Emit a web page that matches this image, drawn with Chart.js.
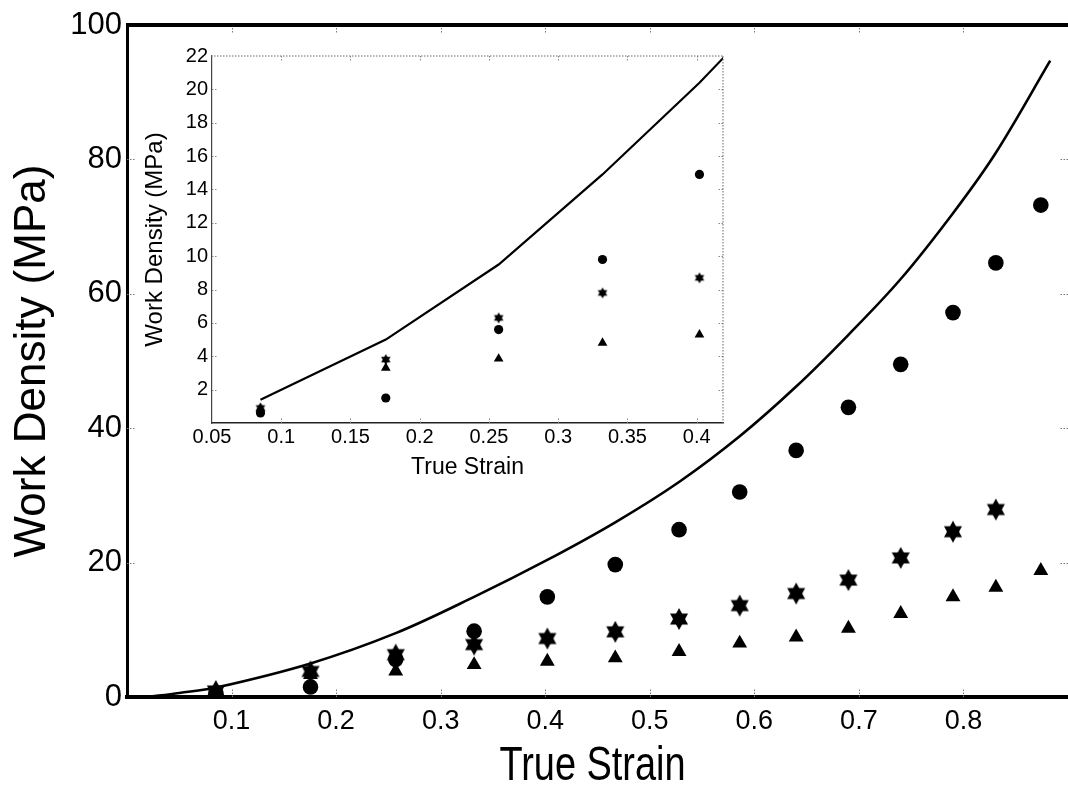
<!DOCTYPE html>
<html><head><meta charset="utf-8">
<script src="https://cdn.jsdelivr.net/npm/chart.js@4.4.1/dist/chart.umd.min.js"></script>
<style>
html,body{margin:0;padding:0;background:#fff;}
#wrap{position:relative;width:1068px;height:795px;overflow:hidden;background:#fff;}
#main{position:absolute;left:0;top:0;}
#inset{position:absolute;left:130px;top:40px;}
</style></head><body>
<div id="wrap"><canvas id="main" width="1068" height="795"></canvas><canvas id="inset" width="600" height="450"></canvas></div>
<script>
// ---- data ----
const strain       = [0.085, 0.1755, 0.257, 0.332, 0.402, 0.467, 0.528, 0.586, 0.640, 0.690, 0.740, 0.790, 0.831, 0.874];
const circleWork   = [0.6, 1.5, 5.6, 9.8, 14.9, 19.7, 24.9, 30.5, 36.7, 43.1, 49.5, 57.2, 64.6, 73.2];
const starStrain   = [0.085, 0.1755, 0.257, 0.332, 0.402, 0.467, 0.528, 0.586, 0.640, 0.690, 0.740, 0.790, 0.831];
const starWork     = [0.9, 3.8, 6.3, 7.8, 8.7, 9.7, 11.6, 13.6, 15.4, 17.4, 20.7, 24.6, 27.9];
const triangleWork = [0.85, 3.3, 3.85, 4.8, 5.3, 5.8, 6.75, 8.0, 8.9, 10.2, 12.4, 14.9, 16.3, 18.8];
const modelStrain  = [0.02, 0.05, 0.085, 0.1755, 0.257, 0.332, 0.402, 0.467, 0.528, 0.586, 0.640, 0.690, 0.740, 0.790, 0.831, 0.883];
const modelWork    = [0, 0.6, 1.4, 5.0, 9.5, 14.9, 20.4, 26.0, 32.0, 38.8, 46.2, 53.9, 62.2, 72.0, 81.0, 94.7];

const mainXTicks  = [0.1, 0.2, 0.3, 0.4, 0.5, 0.6, 0.7, 0.8];
const mainYTicks  = [0, 20, 40, 60, 80, 100];
const insetXTicks = [0.05, 0.1, 0.15, 0.2, 0.25, 0.3, 0.35, 0.4];
const insetYTicks = [2, 4, 6, 8, 10, 12, 14, 16, 18, 20, 22];
const insetCount = 5;        // data columns visible in the inset
const insetModelFrom = 2;    // inset model line starts at first data column

const xTitle = 'True Strain';
const yTitle = 'Work Density (MPa)';

// ---- helpers ----
const zip = (xs, ys) => ys.map((y, i) => ({x: xs[i], y}));
function hexagram(w, h) {
  const c = document.createElement('canvas');
  c.width = Math.ceil(w) + 2; c.height = Math.ceil(h) + 2;
  const g = c.getContext('2d');
  const cx = c.width / 2, cy = c.height / 2;
  g.fillStyle = '#000';
  g.beginPath(); g.moveTo(cx, cy - h/2); g.lineTo(cx + w/2, cy + h/4); g.lineTo(cx - w/2, cy + h/4); g.closePath(); g.fill();
  g.beginPath(); g.moveTo(cx, cy + h/2); g.lineTo(cx + w/2, cy - h/4); g.lineTo(cx - w/2, cy - h/4); g.closePath(); g.fill();
  return c;
}
const fmt = v => String(Number(v.toFixed(3)));
const SANS = "'Liberation Sans', Arial, Helvetica, sans-serif";

function frameTicks(cfg) {
  return {
    id: 'frameTicks_' + cfg.name,
    afterDatasetsDraw(chart) {
      const {ctx, chartArea: a, scales: {x, y}} = chart;
      ctx.save();
      ctx.strokeStyle = cfg.tickColor; ctx.lineWidth = 1; ctx.setLineDash([1.5, 1.5]);
      ctx.beginPath();
      cfg.xt.forEach(v => {
        const px = Math.round(x.getPixelForValue(v)) + 0.5;
        ctx.moveTo(px, a.top); ctx.lineTo(px, a.top + cfg.len);
        ctx.moveTo(px, a.bottom); ctx.lineTo(px, a.bottom - cfg.len);
      });
      cfg.yt.forEach(v => {
        const py = Math.round(y.getPixelForValue(v)) + 0.5;
        ctx.moveTo(a.left, py); ctx.lineTo(a.left + cfg.len, py);
        ctx.moveTo(a.right, py); ctx.lineTo(a.right - cfg.len, py);
      });
      ctx.stroke();
      ctx.setLineDash(cfg.frameDash);
      ctx.strokeStyle = cfg.frameColor; ctx.lineWidth = cfg.topWidth;
      ctx.beginPath(); ctx.moveTo(a.left - 1, a.top); ctx.lineTo(a.right, a.top); ctx.stroke();
      if (cfg.rightWidth) {
        ctx.lineWidth = cfg.rightWidth;
        ctx.beginPath(); ctx.moveTo(a.right, a.top); ctx.lineTo(a.right, a.bottom); ctx.stroke();
      }
      ctx.restore();
    }
  };
}

// condensed x-axis title of the main chart (the reference uses a narrow face)
const narrowXTitle = {
  id: 'narrowXTitle',
  afterDraw(chart) {
    const {ctx, chartArea: a} = chart;
    ctx.save();
    ctx.font = '48px ' + SANS;
    ctx.fillStyle = '#000';
    ctx.textAlign = 'center';
    ctx.textBaseline = 'alphabetic';
    ctx.translate((a.left + a.right) / 2 - 5, a.bottom + 83);
    ctx.scale(0.79, 1);
    ctx.fillText(xTitle, 0, 0);
    ctx.restore();
  }
};

// ---- main chart ----
new Chart(document.getElementById('main'), {
  type: 'scatter',
  data: { datasets: [
    { label: 'model', data: zip(modelStrain, modelWork), showLine: true, borderColor: '#000', borderWidth: 2.6,
      pointRadius: 0, tension: 0.35, fill: false },
    { label: 'circle', data: zip(strain, circleWork), pointStyle: 'circle', pointRadius: 7.8,
      backgroundColor: '#000', borderColor: '#000', borderWidth: 0 },
    { label: 'star', data: zip(starStrain, starWork), pointStyle: hexagram(18, 22), pointRadius: 10,
      backgroundColor: '#000', borderColor: '#000' },
    { label: 'triangle', data: zip(strain, triangleWork), pointStyle: 'triangle', pointRadius: 8.6,
      backgroundColor: '#000', borderColor: '#000', borderWidth: 0 }
  ]},
  options: {
    responsive: false, animation: false, devicePixelRatio: 1,
    layout: { autoPadding: false, padding: { top: 25, right: 0, left: 0, bottom: 0 } },
    plugins: { legend: { display: false }, tooltip: { enabled: false } },
    scales: {
      x: { type: 'linear', min: 0, max: 0.9, position: 'bottom',
        afterFit: s => { s.height = 98; s.paddingLeft = 0; s.paddingRight = 0; },
        afterBuildTicks: s => { s.ticks = mainXTicks.map(v => ({value: v})); },
        ticks: { color: '#000', font: { family: SANS, size: 27 }, padding: 8, maxRotation: 0, callback: v => fmt(v) },
        grid: { display: true, drawOnChartArea: false, drawTicks: false },
        border: { display: true, color: '#000', width: 4 },
        title: { display: false, text: xTitle }
      },
      y: { type: 'linear', min: 0, max: 100, position: 'left',
        afterFit: s => { s.width = 127; },
        afterBuildTicks: s => { s.ticks = mainYTicks.map(v => ({value: v})); },
        ticks: { color: '#000', font: { family: SANS, size: 31 }, padding: 5, callback: v => fmt(v) },
        grid: { display: true, drawOnChartArea: false, drawTicks: false },
        border: { display: true, color: '#000', width: 3 },
        title: { display: true, text: yTitle, color: '#000', font: { family: SANS, size: 44 }, padding: { top: 6, bottom: 0 } }
      }
    }
  },
  plugins: [frameTicks({ name: 'main', xt: mainXTicks, yt: [20, 40, 60, 80], len: 9, tickColor: '#777',
    frameColor: '#000', frameDash: [], topWidth: 4, rightWidth: 0 }), narrowXTitle]
});

// ---- inset chart ----
new Chart(document.getElementById('inset'), {
  type: 'scatter',
  data: { datasets: [
    { label: 'model', data: zip(modelStrain.slice(insetModelFrom), modelWork.slice(insetModelFrom)), showLine: true,
      borderColor: '#000', borderWidth: 2.2, pointRadius: 0, tension: 0, fill: false },
    { label: 'circle', data: zip(strain.slice(0, insetCount), circleWork.slice(0, insetCount)), pointStyle: 'circle', pointRadius: 4.6,
      backgroundColor: '#000', borderColor: '#000', borderWidth: 0 },
    { label: 'star', data: zip(starStrain.slice(0, insetCount), starWork.slice(0, insetCount)), pointStyle: hexagram(9.5, 11), pointRadius: 6,
      backgroundColor: '#000', borderColor: '#000' },
    { label: 'triangle', data: zip(strain.slice(0, insetCount), triangleWork.slice(0, insetCount)), pointStyle: 'triangle', pointRadius: 5.6,
      backgroundColor: '#000', borderColor: '#000', borderWidth: 0 }
  ]},
  options: {
    responsive: false, animation: false, devicePixelRatio: 1,
    layout: { autoPadding: false, padding: { top: 16, right: 7, left: 0, bottom: 0 } },
    plugins: { legend: { display: false }, tooltip: { enabled: false } },
    scales: {
      x: { type: 'linear', min: 0.05, max: 0.419, position: 'bottom',
        afterFit: s => { s.height = 67; s.paddingLeft = 0; s.paddingRight = 0; },
        afterBuildTicks: s => { s.ticks = insetXTicks.map(v => ({value: v})); },
        ticks: { color: '#000', font: { family: SANS, size: 20 }, padding: 2, maxRotation: 0, callback: v => fmt(v) },
        grid: { display: true, drawOnChartArea: false, drawTicks: false },
        border: { display: true, color: '#222', width: 1.5 },
        title: { display: true, text: xTitle, color: '#000', font: { family: SANS, size: 23 }, padding: { top: 0, bottom: 9 } }
      },
      y: { type: 'linear', min: 0, max: 22, position: 'left',
        afterFit: s => { s.width = 82; },
        afterBuildTicks: s => { s.ticks = insetYTicks.map(v => ({value: v})); },
        ticks: { color: '#000', font: { family: SANS, size: 20 }, padding: 4, callback: v => fmt(v) },
        grid: { display: true, drawOnChartArea: false, drawTicks: false },
        border: { display: true, color: '#444', width: 1.2 },
        title: { display: true, text: yTitle, color: '#000', font: { family: SANS, size: 24 }, padding: { top: 11, bottom: 0 } }
      }
    }
  },
  plugins: [frameTicks({ name: 'inset', xt: [0.1, 0.15, 0.2, 0.25, 0.3, 0.35, 0.4], yt: insetYTicks.slice(0, -1), len: 5,
    tickColor: '#888', frameColor: '#666', frameDash: [1.5, 1.5], topWidth: 1, rightWidth: 1 })]
});
</script>
</body></html>
